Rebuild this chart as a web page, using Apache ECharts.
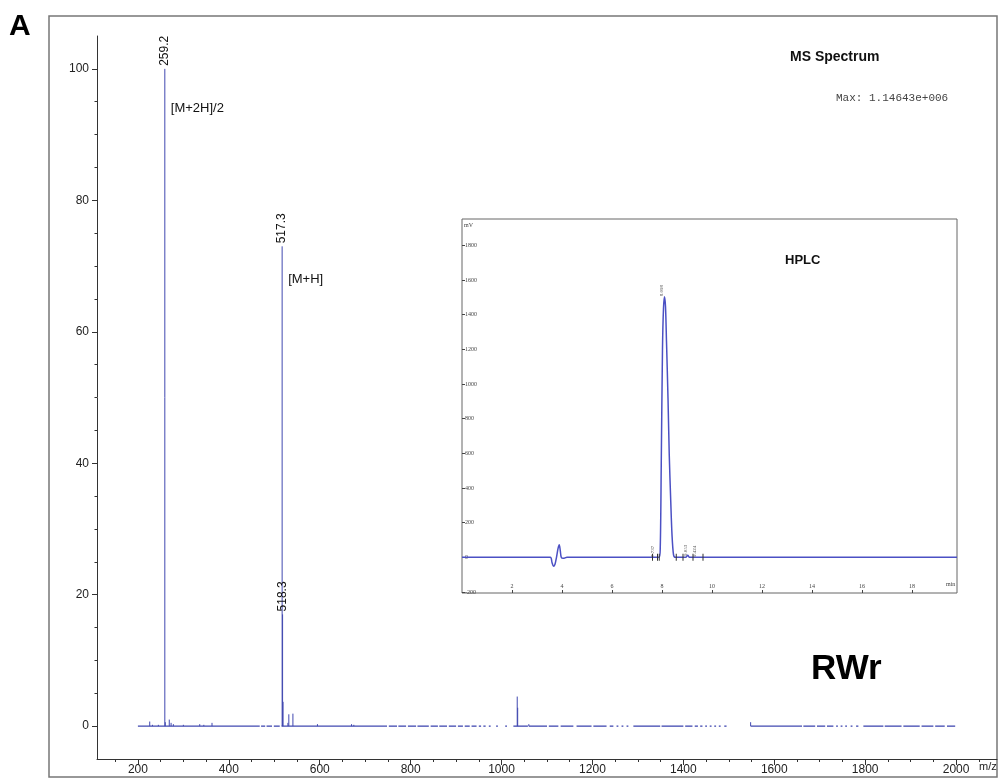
<!DOCTYPE html>
<html><head><meta charset="utf-8">
<script src="https://cdn.jsdelivr.net/npm/echarts@6/dist/echarts.min.js"></script>
<style>html,body{margin:0;padding:0;background:#fff}#c{width:999px;height:781px}</style>
</head><body><div id="c"></div>
<script>
// ---------- MS spectrum data ----------
const msXTickLabels = [200, 400, 600, 800, 1000, 1200, 1400, 1600, 1800, 2000];
const msXMinorTicks = [150, 200, 250, 300, 350, 400, 450, 500, 550, 600, 650, 700, 750, 800, 850, 900, 950, 1000,
  1050, 1100, 1150, 1200, 1250, 1300, 1350, 1400, 1450, 1500, 1550, 1600, 1650, 1700, 1750, 1800, 1850, 1900, 1950, 2000, 2050];
const msYTickLabels = [0, 20, 40, 60, 80, 100];
const msYMinorTicks = [5, 10, 15, 25, 30, 35, 45, 50, 55, 65, 70, 75, 85, 90, 95];

const msPeakMz = [226, 232, 245, 259.2, 260.2, 269, 273, 278, 300, 336, 345, 363,
  517.3, 518.3, 519.3, 530, 532, 541, 595, 670, 675, 1034.5, 1035.5, 1060, 1548];
const msPeakIntensity = [0.7, 0.2, 0.2, 100, 0.6, 1.0, 0.5, 0.3, 0.2, 0.3, 0.2, 0.5,
  73, 17, 3.7, 0.5, 1.8, 1.9, 0.3, 0.3, 0.2, 4.5, 2.8, 0.3, 0.6];
const msPeakLabels = ['', '', '', '259.2', '', '', '', '', '', '', '', '',
  '517.3', '518.3', '', '', '', '', '', '', '', '', '', '', ''];

const msNoteText = ['[M+2H]/2', '[M+H]'];
const msNoteMz = [259.2, 517.3];
const msNoteLevel = [94, 68];

// baseline stretches (m/z from, m/z to) where signal was recorded
const msBaselineFrom = [200, 471, 483, 499, 516, 752, 773, 794, 815, 844, 863, 884, 904, 919, 934, 950, 960, 972, 988, 1008,
  1026, 1060, 1104, 1130, 1165, 1202, 1238, 1253, 1264, 1275, 1290, 1352, 1404, 1425, 1437, 1448, 1458, 1468, 1478, 1490,
  1548, 1664, 1694, 1716, 1736, 1746, 1756, 1768, 1780, 1796, 1843, 1884, 1924, 1954, 1980];
const msBaselineTo = [468, 480, 495, 512, 748, 770, 790, 812, 840, 860, 880, 900, 915, 930, 945, 955, 965, 976, 992, 1012,
  1058, 1100, 1125, 1158, 1198, 1231, 1246, 1257, 1268, 1279, 1349, 1400, 1420, 1432, 1442, 1452, 1462, 1472, 1482, 1495,
  1661, 1690, 1712, 1730, 1740, 1750, 1760, 1772, 1785, 1840, 1880, 1920, 1950, 1975, 1998];

// ---------- HPLC inset data ----------
const hplcXTicks = [2, 4, 6, 8, 10, 12, 14, 16, 18];
const hplcYTicks = [-200, 0, 200, 400, 600, 800, 1000, 1200, 1400, 1600, 1800];
const hplcTime = [0, 3.53, 3.6, 3.66, 3.72, 3.78, 3.84, 3.89, 3.93, 3.97, 4.05, 4.2, 7.88, 7.93, 7.97, 8.02, 8.06, 8.10,
  8.14, 8.18, 8.24, 8.29, 8.35, 8.40, 8.46, 8.53, 8.95, 9.03, 9.1, 19.8];
const hplcSignal = [0, 0, -30, -52, -40, 0, 50, 73, 40, 0, -6, 0, 0, 54, 534, 1207, 1437, 1504,
  1447, 1245, 919, 592, 323, 131, 16, 0, 0, 12, 0, 0];
const hplcMarkTimes = [7.62, 7.82, 7.89, 8.57, 8.84, 9.24, 9.64];
const hplcPeakNames = ['7.737', '8.098', '9.053', '9.424'];
const hplcPeakTimes = [7.737, 8.098, 9.053, 9.424];
const hplcPeakTops = [0, 1504, 5, 0];

const LINE = '#4048b0';
const FONT = 'Liberation Sans, Arial, sans-serif';
const SERIF = 'Liberation Serif, Times New Roman, serif';
const plain = v => String(v);

const chart = echarts.init(document.getElementById('c'), null, {renderer: 'canvas'});

chart.setOption({
  animation: false,
  backgroundColor: '#fff',
  grid: [
    {left: 97, right: 2, top: 36, bottom: 22, outerBoundsMode: 'none'},
    {left: 462, top: 219, width: 495, height: 374, show: true, backgroundColor: '#fff',
      borderColor: '#666', borderWidth: 1, outerBoundsMode: 'none', z: 5}
  ],
  xAxis: [
    {type: 'value', gridIndex: 0, min: 110, max: 2090, position: 'bottom',
      axisLine: {show: true, onZero: false, lineStyle: {color: '#333', width: 1}},
      axisTick: {show: true, length: 6, lineStyle: {color: '#333'}, customValues: msXTickLabels},
      axisLabel: {show: true, color: '#222', fontSize: 12, fontFamily: FONT, margin: 5, formatter: plain, customValues: msXTickLabels},
      splitLine: {show: false}},
    {type: 'value', gridIndex: 0, min: 110, max: 2090, position: 'bottom',
      axisLine: {show: false, onZero: false},
      axisTick: {show: true, length: 3, lineStyle: {color: '#333'}, customValues: msXMinorTicks},
      axisLabel: {show: false}, splitLine: {show: false}},
    {type: 'value', gridIndex: 1, min: 0, max: 19.8, position: 'bottom',
      axisLine: {show: false, onZero: false},
      axisTick: {show: true, inside: true, length: 3, lineStyle: {color: '#444'}, customValues: hplcXTicks},
      axisLabel: {show: true, inside: true, color: '#444', fontSize: 6, fontFamily: SERIF, margin: 4, formatter: plain, customValues: hplcXTicks},
      splitLine: {show: false}, z: 6}
  ],
  yAxis: [
    {type: 'value', gridIndex: 0, min: -5, max: 105, position: 'left',
      axisLine: {show: true, onZero: false, lineStyle: {color: '#333', width: 1}},
      axisTick: {show: true, length: 5, lineStyle: {color: '#333'}, customValues: msYTickLabels},
      axisLabel: {show: true, color: '#222', fontSize: 12, fontFamily: FONT, margin: 8, formatter: plain, customValues: msYTickLabels},
      splitLine: {show: false}},
    {type: 'value', gridIndex: 0, min: -5, max: 105, position: 'left',
      axisLine: {show: false, onZero: false},
      axisTick: {show: true, length: 2.5, lineStyle: {color: '#333'}, customValues: msYMinorTicks},
      axisLabel: {show: false}, splitLine: {show: false}},
    {type: 'value', gridIndex: 1, min: -206, max: 1952, position: 'left',
      axisLine: {show: false, onZero: false},
      axisTick: {show: true, inside: true, length: 3, lineStyle: {color: '#444'}, customValues: hplcYTicks},
      axisLabel: {show: true, inside: true, color: '#444', fontSize: 6, fontFamily: SERIF, margin: 3, formatter: plain, customValues: hplcYTicks},
      splitLine: {show: false}, z: 6}
  ],
  series: [
    {
      name: 'baseline', type: 'custom', xAxisIndex: 0, yAxisIndex: 0, silent: true,
      data: msBaselineFrom.map((f, i) => [f, msBaselineTo[i], 0]),
      encode: {x: [0, 1], y: 2},
      renderItem: (params, api) => {
        const a = api.coord([api.value(0), 0]);
        const b = api.coord([api.value(1), 0]);
        return {type: 'line', shape: {x1: a[0], y1: a[1], x2: b[0], y2: b[1]},
          style: {stroke: LINE, lineWidth: 1.3}};
      }
    },
    {
      name: 'peaks', type: 'custom', xAxisIndex: 0, yAxisIndex: 0, silent: true,
      data: msPeakMz.map((m, i) => [m, msPeakIntensity[i]]),
      encode: {x: 0, y: 1},
      renderItem: (params, api) => {
        const x = api.value(0), h = api.value(1);
        const p0 = api.coord([x, 0]);
        const p1 = api.coord([x, h]);
        const children = [{type: 'line', shape: {x1: p0[0], y1: p0[1], x2: p1[0], y2: p1[1]},
          style: {stroke: LINE, lineWidth: 1}}];
        const lab = msPeakLabels[params.dataIndex];
        if (lab) {
          children.push({type: 'text', x: p1[0], y: p1[1] - 3, rotation: Math.PI / 2, z2: 10,
            style: {text: lab, fontSize: 12, fontFamily: FONT, fill: '#111', align: 'left', verticalAlign: 'middle'}});
        }
        return {type: 'group', children};
      }
    },
    {
      name: 'notes', type: 'scatter', xAxisIndex: 0, yAxisIndex: 0, silent: true,
      symbolSize: 0, itemStyle: {opacity: 1},
      data: msNoteMz.map((m, i) => ({value: [m, msNoteLevel[i]], name: msNoteText[i]})),
      label: {show: true, position: 'right', distance: 6, formatter: '{b}', color: '#111', opacity: 1, fontSize: 13, fontFamily: FONT}
    },
    {
      name: 'hplc', type: 'line', xAxisIndex: 2, yAxisIndex: 2, silent: true, z: 7,
      data: hplcTime.map((t, i) => [t, hplcSignal[i]]),
      showSymbol: false, smooth: 0.3,
      lineStyle: {color: '#4b50c4', width: 1.5}
    },
    {
      name: 'hplcMarks', type: 'scatter', xAxisIndex: 2, yAxisIndex: 2, silent: true, z: 8,
      data: hplcMarkTimes.map(t => [t, 0]),
      symbol: 'rect', symbolSize: [1, 7], itemStyle: {color: '#333', opacity: 1}
    },
    {
      name: 'hplcPeakNames', type: 'scatter', xAxisIndex: 2, yAxisIndex: 2, silent: true, z: 8,
      symbolSize: 0, itemStyle: {opacity: 1},
      data: hplcPeakTimes.map((t, i) => ({value: [t, hplcPeakTops[i]], name: hplcPeakNames[i]})),
      label: {show: true, position: 'top', distance: 6, rotate: 90, formatter: '{b}', color: '#555', fontSize: 5, fontFamily: SERIF}
    }
  ],
  graphic: [
    {type: 'rect', shape: {x: 49, y: 16, width: 948, height: 761}, style: {fill: 'none', stroke: '#777', lineWidth: 1.5}, z: 0, silent: true},
    {type: 'text', left: 9, top: 12, style: {text: 'A', font: 'bold 30px ' + FONT, fill: '#000'}},
    {type: 'text', left: 790, top: 50, style: {text: 'MS Spectrum', font: 'bold 14px ' + FONT, fill: '#111'}},
    {type: 'text', left: 836, top: 93, style: {text: 'Max: 1.14643e+006', font: '11px Liberation Mono, Courier New, monospace', fill: '#444'}},
    {type: 'text', left: 785, top: 254, z: 20, style: {text: 'HPLC', font: 'bold 13px ' + FONT, fill: '#111'}},
    {type: 'text', left: 811, top: 652, style: {text: 'RWr', font: 'bold 35px ' + FONT, fill: '#000'}},
    {type: 'text', left: 979, top: 761, style: {text: 'm/z', font: '11px ' + FONT, fill: '#222'}},
    {type: 'text', left: 464, top: 222, z: 20, style: {text: 'mV', font: '6px ' + SERIF, fill: '#444'}},
    {type: 'text', left: 946, top: 581, z: 20, style: {text: 'min', font: '6px ' + SERIF, fill: '#444'}}
  ]
});
</script></body></html>
